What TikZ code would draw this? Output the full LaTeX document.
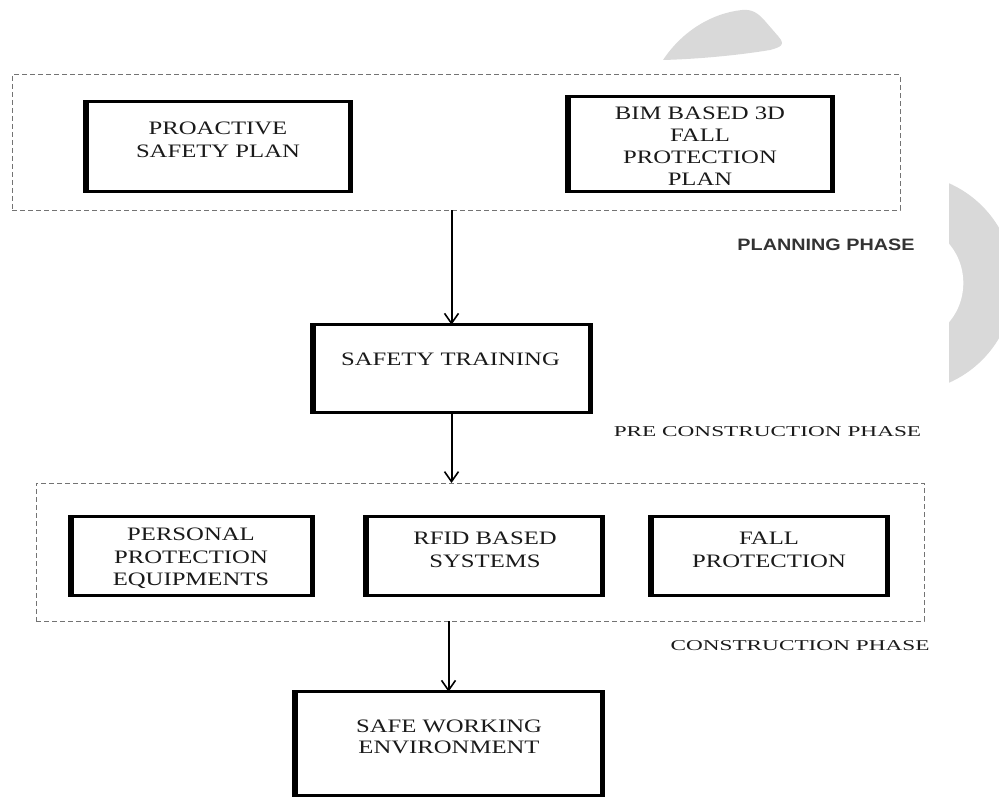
\documentclass[tikz,border=0pt]{standalone}
\usepackage{fontspec}
\setmainfont{Liberation Serif}
\newfontfamily\boxfont[FakeStretch=1.3]{Liberation Serif}
\newfontfamily\phasefont[FakeStretch=1.55]{Liberation Serif}
\newfontfamily\planfont[FakeStretch=1.2]{Liberation Sans}
\usetikzlibrary{arrows.meta}
\definecolor{blob}{HTML}{D9D9D9}
\definecolor{ink}{HTML}{1A1A1A}
\begin{document}
\begin{tikzpicture}[x=1pt,y=-1pt,
  stepbox/.style={draw=black, line width=3.2pt, inner sep=0pt, outer sep=0pt},
  sideline/.style={draw=black, line width=5.5pt, line cap=butt, shorten <=-1.6pt, shorten >=-1.6pt},
  boxtext/.style={anchor=north, inner sep=0pt, align=center, text=ink, font=\boxfont\fontsize{19}{22.5}\selectfont},
  phase/.style={anchor=base, inner sep=0pt, text=ink, font=\phasefont\fontsize{15}{18}\selectfont},
  frame/.style={draw=black!55, line width=1pt, dash pattern=on 5pt off 3pt, inner sep=0pt, outer sep=0pt},
  arr/.style={draw=black, line width=2pt, -{Straight Barb[length=10pt,width=14pt,line width=1.6pt]}}]
\useasboundingbox (0,0) rectangle (999,800);
% background blobs
\fill[blob] (663,60) .. controls (683,30) and (713,13) .. (742,10)
  .. controls (752,9) and (758,13) .. (765,21) -- (778,36)
  .. controls (786,45) and (781,47) .. (770,50)
  .. controls (740,55) and (700,59) .. (663,60) -- cycle;
\begin{scope}
  \clip (949,150) rectangle (999,400);
  \fill[blob] (905,283) circle[radius=109pt];
  \fill[white] (902,283) circle[radius=61.3pt];
\end{scope}
% phase frames
\node[frame, minimum width=888pt, minimum height=135pt] (plan) at (456,142.5) {};
\node[frame, minimum width=888pt, minimum height=138pt] (const) at (480,552) {};
% boxes
\node[stepbox, minimum width=264.5pt, minimum height=89.5pt] (pro) at (218,146.5) {};
\node[stepbox, minimum width=264.5pt, minimum height=94.5pt] (bim) at (700,144) {};
\node[stepbox, minimum width=277.5pt, minimum height=87.5pt] (st) at (451.5,368.5) {};
\node[stepbox, minimum width=241.5pt, minimum height=78.5pt] (ppe) at (191.5,556) {};
\node[stepbox, minimum width=236.5pt, minimum height=78.5pt] (rfid) at (484,556) {};
\node[stepbox, minimum width=236.5pt, minimum height=78.5pt] (fall) at (769,556) {};
\node[stepbox, minimum width=307.5pt, minimum height=103.5pt] (safe) at (448.5,743.5) {};
\foreach \b in {pro,bim,st,ppe,rfid,fall,safe}{
  \draw[sideline] (\b.north west) -- (\b.south west);
  \draw[sideline] (\b.north east) -- (\b.south east);
}
% box texts
\node[boxtext] (proT) at (218,122) {PROACTIVE\\SAFETY PLAN};
\node[boxtext, font=\boxfont\fontsize{19}{22}\selectfont] (bimT) at (700,107) {BIM BASED 3D\\FALL\\PROTECTION\\PLAN};
\node[boxtext] (stT) at (450.5,353) {SAFETY TRAINING};
\node[boxtext] (ppeT) at (191,528) {PERSONAL\\PROTECTION\\EQUIPMENTS};
\node[boxtext] (rfidT) at (485,532) {RFID BASED\\SYSTEMS};
\node[boxtext] (fallT) at (769,532) {FALL\\PROTECTION};
\node[boxtext, font=\boxfont\fontsize{19}{20.5}\selectfont] (safeT) at (449,720) {SAFE WORKING\\ENVIRONMENT};
% phase labels
\node[phase, font=\planfont\bfseries\fontsize{16.5}{19}\selectfont, text=black!80] (planL) at (826,250) {PLANNING PHASE};
\node[phase] (preL) at (767.5,436) {PRE CONSTRUCTION PHASE};
\node[phase] (conL) at (800,650) {CONSTRUCTION PHASE};
% arrows
\draw[arr] (plan.south -| st.north) -- (st.north);
\draw[arr] (st.south) -- (st.south |- const.north);
\draw[arr] (const.south -| safe.north) -- (safe.north);
\end{tikzpicture}
\end{document}
